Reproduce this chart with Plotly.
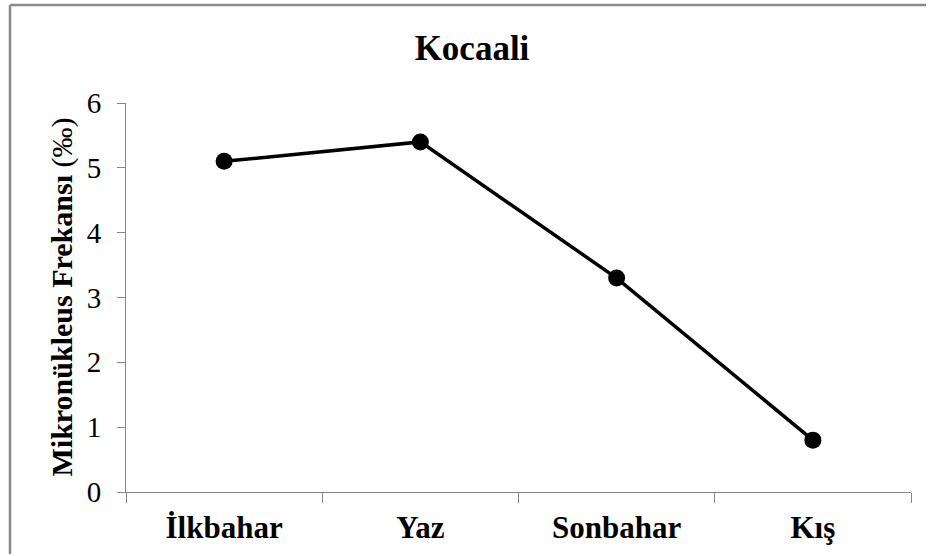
import plotly.graph_objects as go

seasons = ["İlkbahar", "Yaz", "Sonbahar", "Kış"]
frequency = [5.1, 5.4, 3.3, 0.8]
y_ticks = [0, 1, 2, 3, 4, 5, 6]

W, H = 928, 556
L, R, T, B = 126, 17, 103, 64
pw, ph = W - L - R, H - T - B

serif = "Liberation Serif, Times New Roman, serif"
axis_col = "#868686"

fig = go.Figure()
fig.add_trace(go.Scatter(
    x=seasons, y=frequency, mode="lines+markers",
    line=dict(color="black", width=3.5),
    marker=dict(color="black", size=17, symbol="circle"),
    showlegend=False, hoverinfo="x+y",
))

fig.update_layout(
    width=W, height=H,
    margin=dict(l=L, r=R, t=T, b=B),
    paper_bgcolor="white", plot_bgcolor="white",
    title=dict(text="<b>Kocaali</b>", x=472 / W, xref="container", xanchor="center",
               y=1 - 48 / H, yref="container", yanchor="middle",
               font=dict(family=serif, size=35, color="black")),
    font=dict(family=serif, color="black"),
)

fig.update_xaxes(
    type="category", range=[-0.5, 3.5], tickson="boundaries",
    showline=True, linecolor=axis_col, linewidth=1,
    ticks="outside", ticklen=10, tickcolor=axis_col, tickwidth=1,
    showgrid=False, zeroline=False,
    tickfont=dict(family=serif, size=31, color="black"),
    tickprefix="<b>", ticksuffix="</b>",
    ticklabelstandoff=8,
)
fig.update_yaxes(
    range=[0, 6], tickvals=y_ticks,
    showline=True, linecolor=axis_col, linewidth=1,
    ticks="outside", ticklen=8, tickcolor=axis_col, tickwidth=1,
    showgrid=False, zeroline=False,
    tickfont=dict(family=serif, size=29, color="black"),
    ticklabelstandoff=10,
)

fig.add_annotation(
    text="<b>Mikronükleus Frekansı</b> (‰)", textangle=-90,
    xref="paper", yref="paper", x=(61 - L) / pw, y=0.5,
    xanchor="center", yanchor="middle", showarrow=False,
    font=dict(family=serif, size=30, color="black"),
)

# outer chart frame (only top and left edges are visible in the reference)
frame_left = (10 - L) / pw
frame_top = 1 + (T - 5) / ph
frame_right = (W - 2 - L) / pw
frame_bottom = -(B - 2) / ph
fig.add_shape(type="line", xref="paper", yref="paper",
              x0=frame_left, x1=frame_right, y0=frame_top, y1=frame_top,
              line=dict(color="#8a8a8a", width=2.5), layer="below")
fig.add_shape(type="line", xref="paper", yref="paper",
              x0=frame_left, x1=frame_left, y0=frame_top, y1=frame_bottom,
              line=dict(color="#8a8a8a", width=2.5), layer="below")

fig.write_html(
    "out.html",
    config={"displayModeBar": False},
    post_script=(
        "document.documentElement.style.margin='0';"
        "document.documentElement.style.overflow='hidden';"
        "document.body.style.margin='0';document.body.style.padding='0';"
        "document.body.style.overflow='hidden';"
    ),
)
